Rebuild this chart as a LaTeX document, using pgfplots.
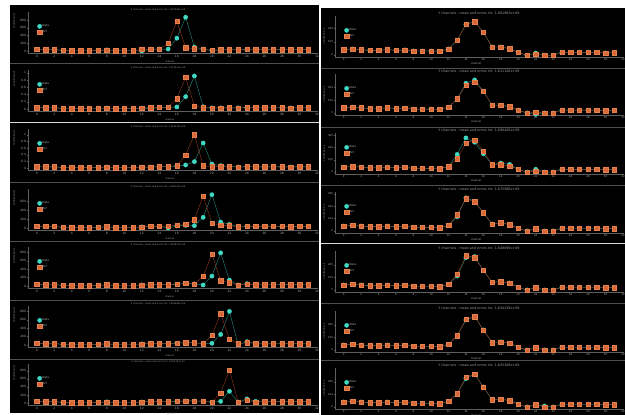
\documentclass[border=0pt]{standalone}
\usepackage{fontspec}
\setmainfont{DejaVu Sans}
\usepackage{pgfplots}
\usepackage{pgfplotstable}
\pgfplotsset{compat=1.18}

\definecolor{dataC}{HTML}{3FD9C4}
\definecolor{dataL}{HTML}{1F8276}
\definecolor{refC}{HTML}{D8683A}
\definecolor{refE}{HTML}{E5824C}
\definecolor{refL}{HTML}{8A3218}
\definecolor{axC}{HTML}{5E5E5E}
\definecolor{txC}{HTML}{ABABAB}
\definecolor{sepC}{HTML}{505050}

\pgfplotstableread{
ch d r
0 40 40
1 35 35
2 35 35
3 15 15
4 12 12
5 12 12
6 12 12
7 15 15
8 28 28
9 12 12
10 12 12
11 12 12
12 0 40
13 45 45
14 50 50
15 50 200
16 330 770
17 870 85
18 100 55
19 50 40
20 10 25
21 30 30
22 35 35
23 30 30
24 40 40
25 35 35
26 35 35
27 35 35
28 35 35
29 30 30
30 35 35
31 35 35
}\tLa
\pgfplotstableread{
ch d r
0 0.040 0.040
1 0.035 0.035
2 0.035 0.035
3 0.015 0.015
4 0.012 0.012
5 0.012 0.012
6 0.012 0.012
7 0.015 0.015
8 0.028 0.028
9 0.012 0.012
10 0.012 0.012
11 0.012 0.012
12 0.025 0.030
13 0.005 0.040
14 0.040 0.045
15 0.050 0.050
16 0.055 0.290
17 0.340 0.870
18 0.910 0.080
19 0.060 0.035
20 0.030 0.030
21 0.030 0.030
22 0.035 0.035
23 0.030 0.030
24 0.040 0.040
25 0.035 0.035
26 0.035 0.035
27 0.035 0.035
28 0.035 0.035
29 0.030 0.030
30 0.035 0.035
31 0.035 0.035
}\tLb
\pgfplotstableread{
ch d r
0 0.040 0.040
1 0.035 0.035
2 0.035 0.035
3 0.015 0.015
4 0.012 0.012
5 0.012 0.012
6 0.012 0.012
7 0.015 0.015
8 0.028 0.028
9 0.012 0.012
10 0.012 0.012
11 0.012 0.012
12 0.025 0.025
13 0.030 0.030
14 0.035 0.035
15 0.040 0.045
16 0.060 0.070
17 0.090 0.390
18 0.190 1.000
19 0.750 0.070
20 0.120 0.040
21 0.070 0.040
22 0.050 0.040
23 0.030 0.030
24 0.040 0.040
25 0.035 0.035
26 0.035 0.035
27 0.035 0.035
28 0.035 0.035
29 0.030 0.030
30 0.035 0.035
31 0.035 0.035
}\tLc
\pgfplotstableread{
ch d r
0 40 40
1 35 35
2 35 35
3 15 15
4 12 12
5 12 12
6 12 12
7 15 15
8 28 28
9 12 12
10 12 12
11 12 12
12 25 25
13 35 35
14 40 40
15 0 45
16 45 60
17 60 80
18 52 185
19 237 711
20 740 104
21 133 67
22 80 52
23 30 30
24 40 40
25 35 35
26 35 35
27 35 35
28 35 35
29 30 30
30 35 35
31 35 35
}\tLd
\pgfplotstableread{
ch d r
0 40 40
1 35 35
2 35 35
3 15 15
4 12 12
5 12 12
6 12 12
7 15 15
8 28 28
9 12 12
10 12 12
11 12 12
12 25 25
13 30 30
14 30 30
15 35 35
16 40 40
17 63 63
18 47 47
19 24 235
20 235 760
21 790 125
22 140 78
23 24 24
24 55 40
25 35 35
26 35 35
27 35 35
28 35 35
29 30 30
30 35 35
31 35 35
}\tLe
\pgfplotstableread{
ch d r
0 40 40
1 35 35
2 35 35
3 15 15
4 12 12
5 12 12
6 12 12
7 15 15
8 28 28
9 12 12
10 12 12
11 12 12
12 25 25
13 45 35
14 30 30
15 35 35
16 45 45
17 55 55
18 55 55
19 30 30
20 40 235
21 250 745
22 800 140
23 10 30
24 80 55
25 35 35
26 35 35
27 35 35
28 35 35
29 30 30
30 35 35
31 35 35
}\tLf
\pgfplotstableread{
ch d r
0 40 40
1 35 35
2 35 35
3 15 15
4 12 12
5 12 12
6 12 12
7 15 15
8 28 28
9 12 12
10 12 12
11 12 12
12 25 25
13 40 35
14 30 30
15 40 35
16 40 40
17 50 50
18 50 50
19 45 45
20 20 20
21 40 250
22 290 815
23 20 20
24 100 65
25 40 25
26 35 35
27 35 35
28 35 35
29 30 30
30 35 35
31 35 35
}\tLg
\pgfplotstableread{
ch d r
0 40 40
1 45 45
2 40 40
3 35 35
4 35 35
5 40 40
6 35 35
7 38 38
8 30 30
9 30 30
10 30 30
11 28 28
12 45 45
13 112 112
14 230 230
15 250 250
16 170 170
17 60 60
18 60 60
19 48 48
20 20 20
21 -3 -3
22 15 5
23 -2 -2
24 -2 -2
25 20 20
26 20 20
27 20 20
28 20 20
29 20 20
30 15 15
31 18 18
}\tRa
\pgfplotstableread{
ch d r
0 40 40
1 45 45
2 40 40
3 35 35
4 35 35
5 40 40
6 35 35
7 38 38
8 30 30
9 30 30
10 30 30
11 28 28
12 45 45
13 110 110
14 231 215
15 257 239
16 170 170
17 60 60
18 60 60
19 50 50
20 22 22
21 0 0
22 -10 5
23 0 0
24 0 0
25 22 22
26 22 22
27 22 22
28 22 22
29 22 22
30 18 18
31 20 20
}\tRb
\pgfplotstableread{
ch d r
0 40 40
1 45 45
2 40 40
3 35 35
4 35 35
5 40 40
6 35 35
7 38 38
8 30 30
9 30 30
10 30 30
11 28 28
12 45 45
13 143 108
14 278 235
15 243 262
16 149 170
17 60 60
18 73 60
19 62 49
20 22 22
21 0 0
22 22 8
23 0 0
24 0 0
25 22 22
26 22 22
27 22 22
28 22 22
29 22 22
30 18 18
31 20 20
}\tRc
\pgfplotstableread{
ch d r
0 40 40
1 45 45
2 40 40
3 35 35
4 35 35
5 40 40
6 35 35
7 38 38
8 30 30
9 30 30
10 30 30
11 28 28
12 45 45
13 115 133
14 267 261
15 240 235
16 147 147
17 56 56
18 67 67
19 51 51
20 22 22
21 0 0
22 18 18
23 0 0
24 0 0
25 22 22
26 22 22
27 22 22
28 22 22
29 22 22
30 18 18
31 20 20
}\tRd
\pgfplotstableread{
ch d r
0 40 40
1 45 45
2 40 40
3 35 35
4 35 35
5 40 40
6 35 35
7 38 38
8 30 30
9 30 30
10 30 30
11 28 28
12 45 45
13 112 125
14 259 275
15 267 259
16 157 157
17 61 61
18 67 67
19 56 56
20 22 22
21 0 0
22 18 18
23 0 0
24 0 0
25 22 22
26 22 22
27 22 22
28 22 22
29 22 22
30 18 18
31 20 20
}\tRe
\pgfplotstableread{
ch d r
0 40 40
1 45 45
2 40 40
3 35 35
4 35 35
5 40 40
6 35 35
7 38 38
8 30 30
9 30 30
10 30 30
11 28 28
12 45 45
13 115 115
14 240 248
15 268 267
16 160 160
17 60 60
18 65 65
19 55 55
20 22 22
21 0 0
22 18 18
23 0 0
24 0 0
25 22 22
26 22 22
27 22 22
28 22 22
29 22 22
30 18 18
31 20 20
}\tRf
\pgfplotstableread{
ch d r
0 40 40
1 45 45
2 40 40
3 35 35
4 35 35
5 40 40
6 35 35
7 38 38
8 30 30
9 30 30
10 30 30
11 28 28
12 45 45
13 107 107
14 227 240
15 263 263
16 160 160
17 58 58
18 62 62
19 52 52
20 22 22
21 0 0
22 18 18
23 8 0
24 0 0
25 22 22
26 22 22
27 22 22
28 22 22
29 22 22
30 18 18
31 20 20
}\tRg

\pgfplotsset{
  dotlegend/.style={legend image code/.code={\draw[##1] plot coordinates {(2.4pt,0pt)};}},
  panel/.style={
    scale only axis, height=41pt, xmin=-1, xmax=32,
    xtick={0,2,...,32},
    axis x line*=bottom, axis y line*=left,
    axis line style={draw=axC, line width=0.4pt},
    every tick/.style={draw=axC, line width=0.3pt},
    tick align=outside, major tick length=1.2pt,
    /pgf/number format/assume math mode=true,
    scaled y ticks=false,
    /pgf/number format/fixed, /pgf/number format/precision=1,
    xlabel={channel}, ylabel={counts [a.u.]},
    ticklabel style={text=txC},
    xticklabel style={inner sep=0.5pt},
    yticklabel style={inner sep=0.6pt},
    label style={text=txC},
    every axis title/.style={text=txC!115, inner sep=0pt, anchor=south},
    legend style={draw=none, fill=none, text=txC, inner sep=0pt,
      row sep=1.4pt, nodes={inner sep=0.5pt},
      at={(axis description cs:0.032,0.71)}, anchor=north west,
      font=\fontsize{2.8}{3}\selectfont},
    legend cell align=left,
  },
  leftp/.style={panel, width=289pt,
    ticklabel style={font=\fontsize{3}{3}\selectfont},
    title style={font=\fontsize{2.2}{2.4}\selectfont, at={(axis description cs:0.45,1.025)}},
    xlabel style={font=\fontsize{2.2}{2.4}\selectfont, at={(axis description cs:0.49,-0.21)}, anchor=center},
    ylabel style={font=\fontsize{2.4}{2.6}\selectfont, at={(axis description cs:-0.048,1.05)}, anchor=east},
  },
  rightp/.style={panel, width=288pt,
    ticklabel style={font=\fontsize{2.6}{2.8}\selectfont},
    title style={font=\fontsize{3.3}{3.5}\selectfont, at={(axis description cs:0.5,1.02)}},
    xlabel style={font=\fontsize{2.6}{2.8}\selectfont, at={(axis description cs:0.49,-0.15)}, anchor=center},
    ylabel style={font=\fontsize{2.4}{2.6}\selectfont, at={(axis description cs:-0.038,0.5)}, anchor=center},
  },
}

\newcommand{\panel}[8]{%
\begin{axis}[#1, at={(#2pt,#3pt)}, anchor=south west, ymin=#4, ymax=#5, ytick={#6}, title={#7}]
\addlegendimage{only marks, mark=*, mark size=2.1pt, mark options={fill=dataC, draw=dataC}, dotlegend}
\addlegendentry{Data}
\addlegendimage{only marks, mark=square*, mark size=2.2pt, mark options={fill=refC, draw=refE, line width=0.3pt}, dotlegend}
\addlegendentry{Ref}
\addplot[forget plot, dataL, line width=0.45pt, mark=*, mark size=2.1pt, mark options={fill=dataC, draw=dataC}] table[x=ch, y=d] {#8};
\addplot[forget plot, refL, line width=0.45pt, mark=square*, mark size=2.2pt, mark options={fill=refC, draw=refE, line width=0.3pt}] table[x=ch, y=r] {#8};
\end{axis}}

\begin{document}
\begin{tikzpicture}
\useasboundingbox (0,0) rectangle (625pt,415pt);
\fill[white] (0,0) rectangle (625pt,415pt);
\fill[black] (10pt,2pt) rectangle (318.5pt,410pt);
\fill[black] (320.5pt,0pt) rectangle (625pt,407pt);
% separators left
\foreach \yy in {351.5,233,174,114.7,55.7} \draw[sepC, line width=0.7pt] (10pt,\yy pt) -- (318.5pt,\yy pt);
\draw[white!85!black, line width=1.2pt] (10pt,292.5pt) -- (318.5pt,292.5pt);
% separators right
\foreach \yy in {346.7,287.7,230,111.3,54.3} \draw[sepC, line width=0.7pt] (320.5pt,\yy pt) -- (625pt,\yy pt);
\draw[white!85!black, line width=1.2pt] (320.5pt,171.3pt) -- (625pt,171.3pt);

\panel{leftp}{28}{362}{-52}{1006}{0,200,400,600,800}{X channels - mean and errors Int: 1.070508e+09}{\tLa}
\panel{leftp}{28}{304}{-0.055}{1.074}{0,0.2,0.4,0.6,0.8,1}{X channels - mean and errors Int: 1.017012e+09}{\tLb}
\panel{leftp}{28}{245}{-0.06}{1.17}{0,0.2,0.4,0.6,0.8,1}{X channels - mean and errors Int: 1.023479e+09}{\tLc}
\panel{leftp}{28}{185}{-44}{867}{0,200,400,600}{X channels - mean and errors Int: 1.066147e+09}{\tLd}
\panel{leftp}{28}{127}{-48}{929}{0,200,400,600,800}{X channels - mean and errors Int: 1.065877e+09}{\tLe}
\panel{leftp}{28}{68}{-48}{929}{0,200,400,600,800}{X channels - mean and errors Int: 1.039486e+09}{\tLf}
\panel{leftp}{28}{10}{-50}{967}{0,200,400,600,800}{X channels - mean and errors Int: 9.965337e-10}{\tLg}

\panel{rightp}{335}{358}{-15}{293}{0,100,200}{Y channels - mean and errors Int: 1.601963e+09}{\tRa}
\panel{rightp}{335}{300}{-15.6}{303}{0,100,200}{Y channels - mean and errors Int: 1.611126e+09}{\tRb}
\panel{rightp}{335}{241}{-16}{318}{0,100,200,300}{Y channels - mean and errors Int: 1.690445e+09}{\tRc}
\panel{rightp}{335}{182}{-16}{314}{0,100,200,300}{Y channels - mean and errors Int: 1.675566e+09}{\tRd}
\panel{rightp}{335}{123}{-16}{312}{0,100,200}{Y channels - mean and errors Int: 1.648096e+09}{\tRe}
\panel{rightp}{335}{63}{-16}{312}{0,100,200}{Y channels - mean and errors Int: 1.634239e+09}{\tRf}
\panel{rightp}{335}{6}{-16}{312}{0,100,200}{Y channels - mean and errors Int: 1.625308e+09}{\tRg}
\end{tikzpicture}
\end{document}
